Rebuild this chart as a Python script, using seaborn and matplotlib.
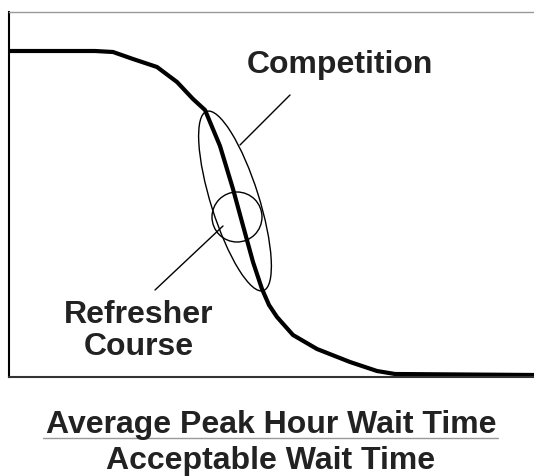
import matplotlib
matplotlib.use("Agg")
import matplotlib.pyplot as plt
import seaborn as sns
from matplotlib.patches import Ellipse, Circle

# Schematic demand curve (arbitrary units)
curve_x = [0, 86, 104, 124, 148, 168, 184, 196, 211, 224, 233, 244, 253, 260, 268, 284, 308, 341, 368, 386, 525]
curve_y = [326, 326, 325, 318, 310, 295, 278, 267, 231, 188, 155, 115, 88, 72, 60, 42, 28, 15, 6, 3, 2]

# Highlighted regions: (centre x, centre y, width, height, angle)
competition_zone = (226, 176, 188, 48, -72.5)
refresher_zone = (228, 160, 25)

# Labels
competition_label = "Competition"
refresher_label = "Refresher\nCourse"
x_numerator = "Average Peak Hour Wait Time"
x_denominator = "Acceptable Wait Time"

sns.set_style("white")
plt.rcParams["font.family"] = ["Liberation Sans", "DejaVu Sans"]

fig = plt.figure(figsize=(5.34, 4.77), dpi=100)
ax = fig.add_axes([9 / 534, 99 / 477, 525 / 534, 365 / 477])

sns.lineplot(x=curve_x, y=curve_y, sort=False, estimator=None, color="black", linewidth=3, ax=ax)

cx, cy, w, h, ang = competition_zone
ax.add_patch(Ellipse((cx, cy), w, h, angle=ang, fill=False, color="black", linewidth=1))
rx, ry, r = refresher_zone
ax.add_patch(Circle((rx, ry), r, fill=False, color="black", linewidth=1))

# leader lines
ax.plot([231, 281], [232, 282], color="black", linewidth=1)
ax.plot([146, 214], [87, 151], color="black", linewidth=1)

label_kw = dict(ha="center", va="baseline", fontsize=23, fontweight="bold", color="#222222")
ax.text(331, 305, competition_label, **label_kw)
for i, line in enumerate(refresher_label.split("\n")):
    ax.text(130, 55 - 32 * i, line, **label_kw)

ax.set_xlim(0, 525)
ax.set_ylim(0, 365)
ax.set_xticks([])
ax.set_yticks([])
ax.spines["right"].set_visible(False)
ax.spines["top"].set_color("#999999")
ax.spines["top"].set_linewidth(1)
ax.spines["left"].set_color("black")
ax.spines["left"].set_linewidth(1.5)
ax.spines["bottom"].set_color("#333333")
ax.spines["bottom"].set_linewidth(1.5)

fig.text(271 / 534, 1 - 433 / 477, x_numerator, **label_kw)
fig.text(271 / 534, 1 - 469 / 477, x_denominator, **label_kw)
fig.add_artist(plt.Line2D([43 / 534, 498 / 534], [1 - 438.5 / 477, 1 - 438.5 / 477], color="#999999", linewidth=1))

fig.savefig("out.png", dpi=100)
